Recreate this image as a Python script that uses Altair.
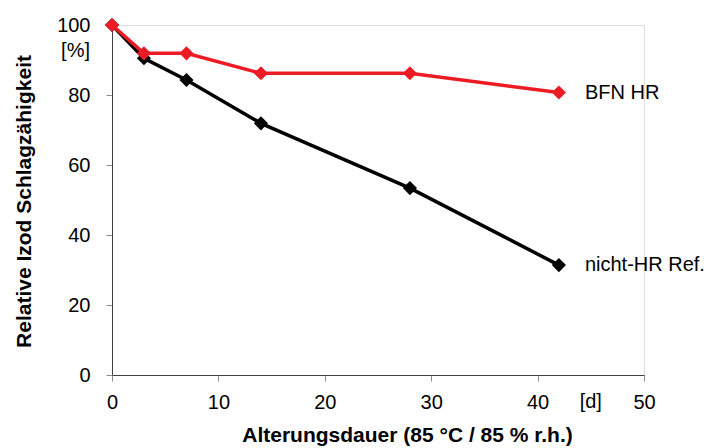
import altair as alt
import pandas as pd

# ---- data ----
days = [0, 3, 7, 14, 28, 42]
bfn_hr = [100, 91.9, 91.9, 86.2, 86.2, 80.7]
nicht_hr = [100, 90.5, 84.3, 71.9, 53.4, 31.4]
series_names = ["nicht-HR Ref.", "BFN HR"]
series_colors = ["#000000", "#ED1C24"]
x_ticks = [0, 10, 20, 30, 40, 50]
y_ticks = [0, 20, 40, 60, 80, 100]
x_unit = "[d]"
y_unit = "[%]"
x_unit_pos = 45
y_unit_pos = 92.5
x_title = "Alterungsdauer (85 °C / 85 % r.h.)"
y_title = "Relative Izod Schlagzähigkeit"

FONT = "Liberation Sans, Arial, sans-serif"

x_scale = alt.Scale(domain=[0, 50], nice=False, zero=False)
y_scale = alt.Scale(domain=[0, 100], nice=False)

x_axis = alt.Axis(
    values=x_ticks, grid=False, title=x_title,
    domainColor="#404040", tickColor="#8c8c8c", tickSize=6,
    labelPadding=11, labelFontSize=20, labelColor="#000000", labelFont=FONT,
    labelFlush=False,
    titleFontSize=21, titleFontWeight="bold", titleFont=FONT, titleColor="#000000",
    titleX=295, titleY=66.5, titleBaseline="alphabetic", titleAlign="center",
)
y_axis = alt.Axis(
    values=y_ticks, grid=False, title=y_title,
    domainColor="#404040", tickColor="#8c8c8c", tickSize=6,
    labelPadding=16, labelFontSize=20, labelColor="#000000", labelFont=FONT,
    labelFlush=False,
    titleFontSize=21, titleFontWeight="bold", titleFont=FONT, titleColor="#000000",
    titleX=-82, titleY=176, titleBaseline="alphabetic", titleAlign="center", titleAngle=-90,
)

layers = []
for name, vals, col in zip(series_names, [nicht_hr, bfn_hr], series_colors):
    df = pd.DataFrame({"day": days, "value": vals, "series": name})
    line = alt.Chart(df).mark_line(
        color=col, strokeWidth=3.5,
        point=alt.OverlayMarkDef(shape="diamond", size=200, filled=True, color=col, opacity=1),
    ).encode(
        x=alt.X("day:Q", scale=x_scale, axis=x_axis),
        y=alt.Y("value:Q", scale=y_scale, axis=y_axis),
    )
    lbl = alt.Chart(df.tail(1)).mark_text(
        align="left", baseline="middle", dx=26, fontSize=20, font=FONT, color="#000000"
    ).encode(
        x=alt.X("day:Q", scale=x_scale),
        y=alt.Y("value:Q", scale=y_scale),
        text="series:N",
    )
    layers += [line, lbl]

unit_y = alt.Chart(pd.DataFrame({"v": [y_unit_pos], "t": [y_unit]})).mark_text(
    align="right", baseline="middle", fontSize=20, font=FONT, color="#000000"
).encode(
    x=alt.value(-22),
    y=alt.Y("v:Q", scale=y_scale),
    text="t:N",
)
unit_x = alt.Chart(pd.DataFrame({"v": [x_unit_pos], "t": [x_unit]})).mark_text(
    align="center", baseline="top", fontSize=20, font=FONT, color="#000000"
).encode(
    x=alt.X("v:Q", scale=x_scale),
    y=alt.value(367),
    text="t:N",
)

chart = alt.layer(*layers, unit_y, unit_x).properties(
    width=532, height=350,
    autosize=alt.AutoSizeParams(type="none"),
    padding={"left": 104, "top": 17, "right": 63, "bottom": 71},
).configure_view(stroke=None).configure(background="white")

chart.save("out.html", embed_options={"renderer": "svg", "actions": False})
